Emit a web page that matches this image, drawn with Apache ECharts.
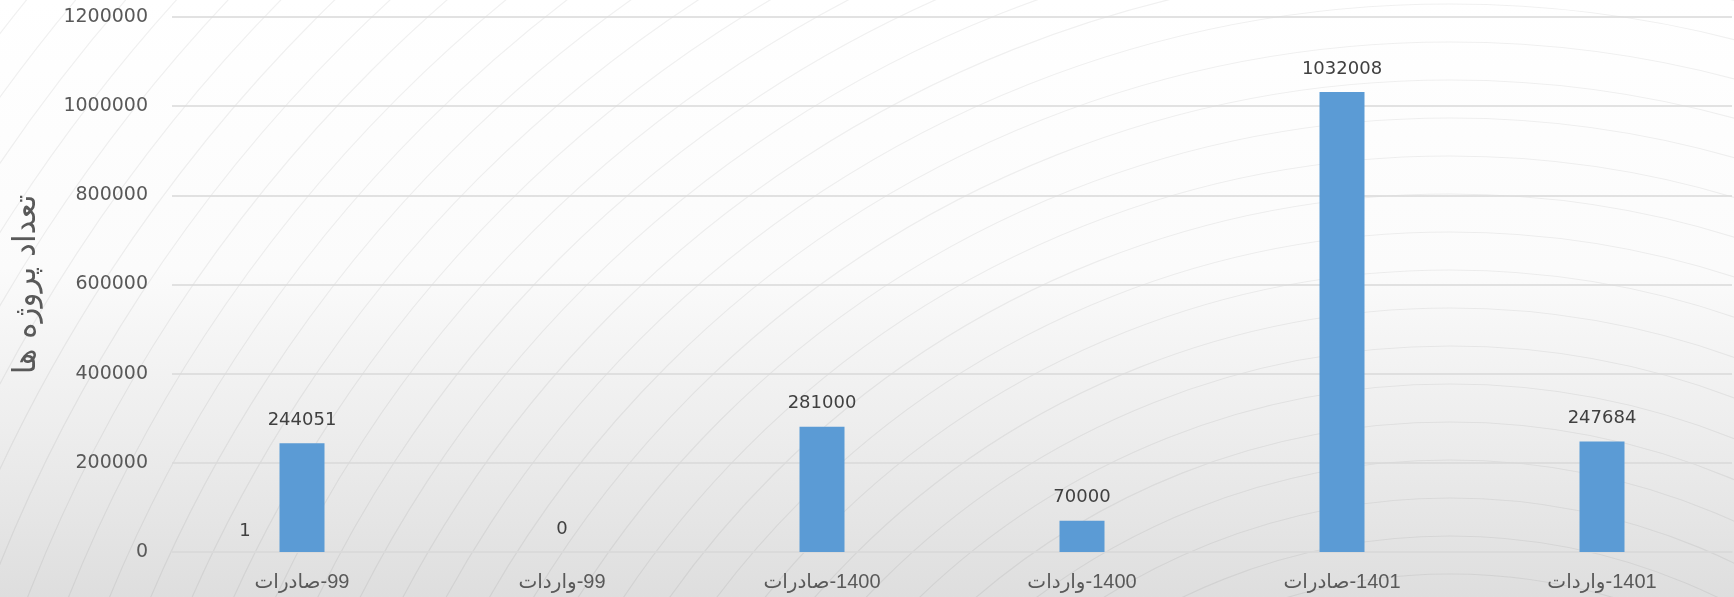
<!DOCTYPE html>
<html>
<head>
<meta charset="utf-8">
<script src="https://cdn.jsdelivr.net/npm/echarts@6/dist/echarts.min.js"></script>
<style>
  html, body { margin: 0; padding: 0; }
  #chart { width: 1734px; height: 597px;
    background: linear-gradient(to bottom, #ffffff 0%, #fbfbfb 45%, #e9e9e9 80%, #dedede 100%); }
</style>
</head>
<body>
<div id="chart"></div>
<script>
const categories = ['99-صادرات', '99-واردات', '1400-صادرات', '1400-واردات', '1401-صادرات', '1401-واردات'];
const seriesSmall = [1, null, null, null, null, null];
const seriesMain = [244051, 0, 281000, 70000, 1032008, 247684];
const yTicks = { min: 0, max: 1200000, interval: 200000 };
const yAxisTitle = 'تعداد پروژه ها';

const chart = echarts.init(document.getElementById('chart'), null, { renderer: 'canvas' });

// faint decorative background curves
const deco = [];
for (let r = 500; r <= 2100; r += 38) {
  deco.push({
    type: 'arc', silent: true, z: -10,
    shape: { cx: 1450, cy: 1150, r: r, startAngle: Math.PI, endAngle: Math.PI * 1.75 },
    style: { stroke: 'rgba(0,0,0,0.06)', fill: null, lineWidth: 1.2 }
  });
}

chart.setOption({
  backgroundColor: 'transparent',
  animation: false,
  graphic: deco,
  grid: { left: 172, right: 2, top: 17, bottom: 45, containLabel: false },
  xAxis: {
    type: 'category',
    data: categories,
    axisLine: { show: true, lineStyle: { color: '#d9d9d9', width: 1.5 } },
    axisTick: { show: false },
    axisLabel: { color: '#595959', fontSize: 20, fontFamily: 'Liberation Sans, DejaVu Sans', margin: 20,
                 formatter: function (v) { return '\u200F' + v; } }
  },
  yAxis: {
    type: 'value',
    min: yTicks.min, max: yTicks.max, interval: yTicks.interval,
    name: yAxisTitle,
    nameLocation: 'middle',
    nameGap: 130,
    nameTextStyle: { color: '#595959', fontSize: 31, fontFamily: 'DejaVu Sans' },
    axisLine: { show: false },
    axisTick: { show: false },
    splitLine: { lineStyle: { color: '#d9d9d9', width: 1.5 } },
    axisLabel: { color: '#595959', fontSize: 19, fontFamily: 'DejaVu Sans', margin: 24,
                 formatter: function (v) { return String(v); } }
  },
  series: [
    {
      type: 'bar',
      data: seriesSmall,
      barWidth: 45,
      barGap: '-100%',
      itemStyle: { color: '#ED7D31' },
      label: { show: true, position: 'top', offset: [-57, 0], distance: 12,
               color: '#404040', fontSize: 18, fontFamily: 'DejaVu Sans' }
    },
    {
      type: 'bar',
      data: seriesMain,
      barWidth: 45,
      itemStyle: { color: '#5B9BD5' },
      label: { show: true, position: 'top', distance: 14,
               color: '#404040', fontSize: 18, fontFamily: 'DejaVu Sans' }
    }
  ]
});
</script>
</body>
</html>
